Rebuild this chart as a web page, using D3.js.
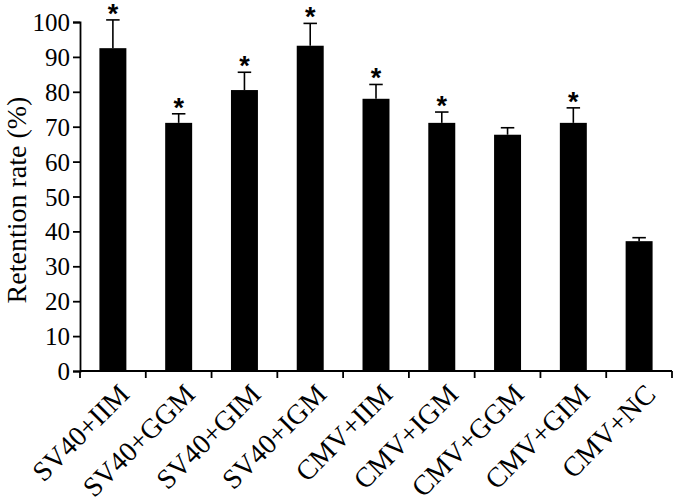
<!DOCTYPE html>
<html>
<head>
<meta charset="utf-8">
<script src="https://cdn.jsdelivr.net/npm/d3@7"></script>
<style>
  body { margin: 0; background: #fff; }
  text { font-family: "Liberation Serif", "Times New Roman", serif; fill: #000; }
</style>
</head>
<body>
<svg id="chart" width="675" height="504"></svg>
<script>
// data
const groups = ["SV40+IIM", "SV40+GGM", "SV40+GIM", "SV40+IGM", "CMV+IIM", "CMV+IGM", "CMV+GGM", "CMV+GIM", "CMV+NC"];
const retention = [92.5, 71.1, 80.5, 93.2, 78.0, 71.1, 67.7, 71.1, 37.2];
const errors = [8.1, 2.6, 5.1, 6.4, 4.1, 3.1, 2.0, 4.3, 1.0];
const signif = [true, true, true, true, true, true, false, true, false];
const yTicks = [0, 10, 20, 30, 40, 50, 60, 70, 80, 90, 100];

const svg = d3.select("#chart");
const margin = {left: 80, top: 22, right: 3, bottom: 133};
const width = 675 - margin.left - margin.right;
const height = 504 - margin.top - margin.bottom;

const g = svg.append("g").attr("transform", `translate(${margin.left},${margin.top})`);

const x = d3.scaleBand().domain(groups).range([0, width]).paddingInner(0.59).paddingOuter(0.295);
const y = d3.scaleLinear().domain([0, 100]).range([height, 0]);

// bars
g.selectAll(".bar")
  .data(groups)
  .join("rect")
  .attr("class", "bar")
  .attr("x", d => x(d))
  .attr("width", x.bandwidth())
  .attr("y", (d, i) => y(retention[i]))
  .attr("height", (d, i) => y(0) - y(retention[i]))
  .attr("fill", "#000");

// error bars (upper only) + stars
const capW = x.bandwidth() * 0.5;
groups.forEach((d, i) => {
  const cx = x(d) + x.bandwidth() / 2;
  const top = y(retention[i] + errors[i]);
  g.append("line")
    .attr("x1", cx).attr("x2", cx)
    .attr("y1", y(retention[i])).attr("y2", top)
    .attr("stroke", "#000").attr("stroke-width", 1.6);
  g.append("line")
    .attr("x1", cx - capW / 2).attr("x2", cx + capW / 2)
    .attr("y1", top).attr("y2", top)
    .attr("stroke", "#000").attr("stroke-width", 1.6);
  if (signif[i]) {
    g.append("text")
      .attr("x", cx)
      .attr("y", top + 3)
      .attr("text-anchor", "middle")
      .style("font-family", "'Liberation Sans', Arial, sans-serif")
      .style("font-weight", "bold")
      .style("font-size", "27px")
      .text("*");
  }
});

// y axis
const yAxis = g.append("g")
  .call(d3.axisLeft(y).tickValues(yTicks).tickSize(7).tickPadding(3));
yAxis.selectAll("text")
  .style("font-size", "25px")
  .style("font-family", "'Liberation Serif', serif")
  .attr("dy", "0.34em");
yAxis.selectAll("line, path").attr("stroke", "#000").attr("stroke-width", 1.8);

// x axis: ticks at band boundaries
const bounds = groups.map(d => x(d) - x.step() * x.paddingInner() / 2).concat([width]);
const xAxis = g.append("g").attr("transform", `translate(0,${height})`);
xAxis.append("line")
  .attr("x1", 0).attr("x2", width)
  .attr("stroke", "#000").attr("stroke-width", 1.8);
xAxis.selectAll(".tick")
  .data(bounds)
  .join("line")
  .attr("x1", d => d).attr("x2", d => d)
  .attr("y1", 0).attr("y2", 7)
  .attr("stroke", "#000").attr("stroke-width", 1.8);

xAxis.selectAll(".lab")
  .data(groups)
  .join("text")
  .attr("class", "lab")
  .attr("text-anchor", "end")
  .style("font-size", "28px")
  .attr("transform", d => `translate(${x(d) + x.bandwidth() / 2 + 18},${25}) rotate(-45)`)
  .text(d => d);

// y label
svg.append("text")
  .attr("transform", `translate(26,${200}) rotate(-90)`)
  .attr("text-anchor", "middle")
  .style("font-size", "28px")
  .text("Retention rate (%)");
</script>
</body>
</html>
